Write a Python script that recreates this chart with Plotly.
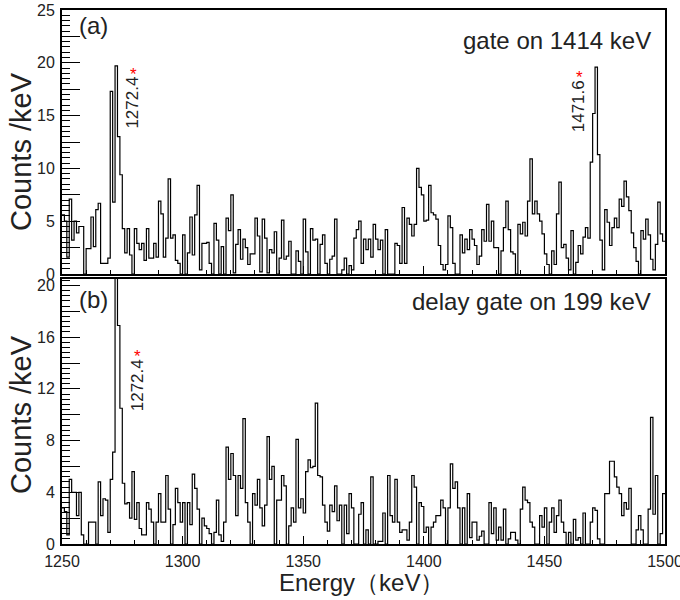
import plotly.graph_objects as go

# Bin edges (1 keV bins) and counts per keV
energy_edges = list(range(1250, 1501))

counts_a = [
    5.6, 5.0, 1.6, 7.1, 3.2, 5.0, 3.9, 4.5, 4.5, 0.0,
    2.4, 2.4, 5.4, 2.6, 6.1, 6.7, 1.0, 1.0, 1.0, 1.5,
    17.3, 6.8, 19.7, 13.0, 9.4, 4.3, 2.0, 4.3, 1.8, 0.0,
    4.3, 2.9, 2.3, 2.9, 1.3, 4.3, 1.5, 1.5, 2.9, 1.6,
    6.9, 5.7, 1.6, 3.4, 9.0, 3.4, 3.7, 1.3, 1.0, 0.0,
    3.7, 0.0, 2.0, 5.4, 1.8, 5.6, 8.4, 0.4, 2.9,
    2.9, 3.0, 1.0, 0.0, 4.8, 3.2, 0.0, 2.6, 0.0, 5.3,
    4.1, 7.5, 0.1, 2.8, 4.2, 1.4, 3.3, 2.5, 0.9, 1.9,
    1.9, 5.3, 3.6, 0.2, 5.2, 3.4, 0.1, 2.3, 2.0, 4.0,
    0.0, 1.5, 5.1, 1.4, 1.7, 3.1, 0.0, 0.0, 2.2, 1.2,
    0.0, 5.2, 2.1, 0.0, 4.3, 3.2, 3.3, 0.0, 2.8, 3.7,
    1.0, 0.0, 1.4, 1.7, 5.2, 0.0, 0.0, 0.4, 1.5, 0.0,
    0.8, 0.4, 3.4,
    4.2, 5.0, 1.0, 3.3, 2.3, 3.3, 1.6, 4.7, 3.3, 2.3,
    3.2, 0.0, 4.2, 0.0, 0.0, 0.0, 2.9, 2.7, 1.0,
    6.3, 1.0, 5.3, 4.7, 3.6, 4.7, 10.0, 8.2, 7.5, 5.0,
    5.1, 8.4, 5.8, 5.6, 5.2, 2.7, 0.9, 0.4, 0.9, 5.5,
    4.4, 1.0, 0.0, 0.0, 3.7, 2.0, 3.3, 2.3, 4.2, 3.3,
    2.7, 0.9, 1.7, 4.2, 3.1, 6.6, 3.1, 5.0, 2.5, 2.5,
    0.0, 2.2,
    4.4, 6.9, 4.2, 2.1, 1.9, 0.0, 4.7, 3.8, 4.9, 3.6,
    6.9, 10.9, 5.7, 6.9, 5.7, 5.0, 3.8, 1.9, 0.9, 0.0,
    2.2, 0.9, 5.7, 8.7, 2.5, 2.8, 1.5, 0.4, 4.1, 0.0,
    1.1, 2.7, 1.9, 3.5, 4.4, 3.4, 10.6, 15.2, 19.6, 11.3,
    3.2, 0.4, 6.1, 4.9, 2.7, 4.4, 5.3, 4.4, 7.1, 6.4,
    8.8, 7.3, 6.0, 3.9, 2.5, 1.2, 0.0, 4.1, 3.3, 5.2,
    3.7, 1.4, 0.4, 2.8, 6.8, 3.8, 3.1,
]

counts_b = [
    2.8, 2.5, 0.7, 5.0, 4.0, 4.0, 2.2, 4.0, 0.7, 0.0,
    0.0, 1.7, 1.7, 1.7, 0.0, 4.8, 2.2, 3.5, 3.4, 0.9,
    5.0, 7.1, 24.0, 16.9, 10.5, 4.7, 3.1, 3.2, 2.0, 5.6,
    1.9, 3.2, 1.2, 0.7, 0.7, 3.2, 2.7, 1.7, 0.0, 1.7,
    3.9, 1.7, 1.7, 5.3, 2.7, 0.0, 1.5, 4.3, 3.2, 1.7,
    3.2, 0.0, 3.2, 1.5, 5.4, 4.3, 2.7, 0.0,
    2.0, 1.4, 1.2, 0.8, 0.0, 0.9, 3.4, 0.7, 0.2, 1.7,
    7.5, 5.0, 7.0, 5.3, 2.2, 5.3, 4.3, 9.7, 3.2, 1.7,
    0.0, 3.9, 3.0, 5.0, 2.8, 1.4, 3.0, 8.3, 5.0, 6.0,
    0.0, 3.4, 3.4, 5.3, 4.5, 0.0, 1.4, 2.8, 1.7, 8.1,
    2.8, 3.5, 2.4, 5.6, 6.5, 5.9, 6.0, 10.9, 5.3, 5.2,
    3.0, 1.7, 1.0, 3.0, 2.5, 4.5, 1.8, 3.0, 0.0, 3.0,
    0.8,
    3.9, 2.8, 0.0, 0.0, 2.3, 3.2, 0.0, 1.1, 0.0, 5.2,
    0.0, 0.0, 0.2, 0.2, 2.4, 0.0, 5.3, 2.2, 1.7, 5.0,
    1.7, 0.9, 1.1, 1.1, 0.3, 1.7, 5.3, 4.4, 0.0, 3.2,
    2.9, 0.9, 1.3, 0.0, 1.3, 1.7, 2.2, 2.2, 3.4, 2.8,
    0.0, 2.8, 6.2, 4.3, 4.8, 2.8, 0.0, 2.8, 0.0, 3.9,
    0.5, 1.7, 1.7, 0.3, 0.6, 1.0, 0.0, 0.0, 3.2, 0.8,
    2.8, 0.3, 1.3, 0.3,
    2.7, 0.0, 0.4, 0.9, 0.9, 0.3, 0.0, 2.7, 4.4, 3.4,
    3.2, 1.7, 1.3, 0.0, 0.0, 2.2, 1.3, 2.8, 0.0, 1.7,
    2.8, 0.9, 2.2, 3.4, 1.7, 0.9, 0.0, 0.9, 0.0, 1.9,
    0.3, 0.5, 0.0, 2.4, 0.0, 0.0, 1.7, 2.8, 2.6, 0.4,
    0.0, 0.0, 3.9, 3.9, 6.4, 6.4, 5.2, 4.4, 3.9, 2.2,
    3.2, 2.7, 4.3, 0.0, 0.0, 1.1, 2.2, 1.1, 0.0, 0.0,
    2.7, 9.8, 2.3, 5.3, 0.0, 0.8, 3.9,
]

x_tick_vals = [1250, 1300, 1350, 1400, 1450, 1500]
ya_tick_vals = [0, 2.5, 5, 7.5, 10, 12.5, 15, 17.5, 20, 22.5, 25]
ya_tick_text = ["0", "", "5", "", "10", "", "15", "", "20", "", "25"]
yb_tick_vals = [0, 2, 4, 6, 8, 10, 12, 14, 16, 18, 20]
yb_tick_text = ["0", "", "4", "", "8", "", "12", "", "16", "", "20"]

peak_labels_a = ["1272.4", "1471.6"]
peak_pos_a = [1279.3, 1464.0]
peak_labels_b = ["1272.4"]
peak_pos_b = [1281.4]

FONT = "Liberation Sans, Arial, sans-serif"
TXT = "#222222"

fig = go.Figure()
fig.add_trace(go.Scatter(
    x=energy_edges, y=counts_a + [counts_a[-1]], mode="lines",
    line=dict(shape="hv", color="black", width=1.2),
    xaxis="x", yaxis="y", showlegend=False, hoverinfo="skip"))
fig.add_trace(go.Scatter(
    x=energy_edges, y=counts_b + [counts_b[-1]], mode="lines",
    line=dict(shape="hv", color="black", width=1.2),
    xaxis="x2", yaxis="y2", showlegend=False, hoverinfo="skip"))

axis_common = dict(showline=True, mirror=True, linecolor="black", linewidth=2,
                   showgrid=False, zeroline=False, ticks="inside", automargin=False,
                   tickcolor="black", ticklabeloverflow="allow",
                   tickfont=dict(family=FONT, size=16, color=TXT))

fig.update_layout(
    width=680, height=600,
    margin=dict(l=62, r=15, t=10, b=56),
    paper_bgcolor="white", plot_bgcolor="white",
    xaxis=dict(domain=[0, 1], range=[1250, 1500], anchor="y",
               tickvals=x_tick_vals, ticklen=8, showticklabels=False,
               minor=dict(dtick=10, tick0=1250, ticklen=4, ticks="inside", tickcolor="black"),
               **axis_common),
    yaxis=dict(domain=[0.5056, 1], range=[0, 25], anchor="x",
               tickvals=ya_tick_vals, ticktext=ya_tick_text, ticklen=18, ticklabelstandoff=2,
               minor=dict(dtick=0.5, tick0=0, ticklen=8, ticks="inside", tickcolor="black"),
               **axis_common),
    xaxis2=dict(domain=[0, 1], range=[1250, 1500], anchor="y2",
                tickvals=x_tick_vals, ticklen=8, ticklabelstandoff=2,
                minor=dict(dtick=10, tick0=1250, ticklen=4, ticks="inside", tickcolor="black"),
                **axis_common),
    yaxis2=dict(domain=[0, 0.4963], range=[0, 20.5], anchor="x2",
                tickvals=yb_tick_vals, ticktext=yb_tick_text, ticklen=18, ticklabelstandoff=2,
                minor=dict(dtick=0.4, tick0=0, ticklen=8, ticks="inside", tickcolor="black"),
                **axis_common),
)

PW, PH = 603.0, 534.0
ann = []
# axis titles
ann.append(dict(text="Counts /keV", xref="paper", yref="paper", x=(21 - 62) / PW, y=(544 - 152) / PH,
                textangle=-90, showarrow=False, xanchor="center", yanchor="middle",
                font=dict(family=FONT, size=29, color=TXT)))
ann.append(dict(text="Counts /keV", xref="paper", yref="paper", x=(21 - 62) / PW, y=(544 - 415) / PH,
                textangle=-90, showarrow=False, xanchor="center", yanchor="middle",
                font=dict(family=FONT, size=29, color=TXT)))
ann.append(dict(text="Energy（keV）", xref="paper", yref="paper", x=(361 - 62) / PW, y=(544 - 582) / PH,
                showarrow=False, xanchor="center", yanchor="middle",
                font=dict(family=FONT, size=24, color=TXT)))
# panel labels
ann.append(dict(text="(a)", xref="paper", yref="paper", x=(77 - 62) / PW, y=(544 - 26) / PH,
                showarrow=False, xanchor="left", yanchor="middle",
                font=dict(family=FONT, size=24, color=TXT)))
ann.append(dict(text="(b)", xref="paper", yref="paper", x=(77 - 62) / PW, y=(544 - 299) / PH,
                showarrow=False, xanchor="left", yanchor="middle",
                font=dict(family=FONT, size=24, color=TXT)))
ann.append(dict(text="gate on 1414 keV", xref="paper", yref="paper", x=(653 - 62) / PW, y=(544 - 40) / PH,
                showarrow=False, xanchor="right", yanchor="middle",
                font=dict(family=FONT, size=24, color=TXT)))
ann.append(dict(text="delay gate on 199 keV", xref="paper", yref="paper", x=(653 - 62) / PW, y=(544 - 301) / PH,
                showarrow=False, xanchor="right", yanchor="middle",
                font=dict(family=FONT, size=24, color=TXT)))
# peak labels
for lab, xp, yc, ys in zip(peak_labels_a, peak_pos_a, [16.2, 15.9], [18.9, 18.6]):
    ann.append(dict(text=lab, xref="x", yref="y", x=xp, y=yc, textangle=-90,
                    showarrow=False, xanchor="center", yanchor="middle",
                    font=dict(family=FONT, size=17, color=TXT)))
    ann.append(dict(text="*", xref="x", yref="y", x=xp + 0.4, y=ys,
                    showarrow=False, xanchor="center", yanchor="middle",
                    font=dict(family=FONT, size=17, color="red")))
for lab, xp, yc, ys in zip(peak_labels_b, peak_pos_b, [12.26], [14.5]):
    ann.append(dict(text=lab, xref="x2", yref="y2", x=xp, y=yc, textangle=-90,
                    showarrow=False, xanchor="center", yanchor="middle",
                    font=dict(family=FONT, size=17, color=TXT)))
    ann.append(dict(text="*", xref="x2", yref="y2", x=xp, y=ys,
                    showarrow=False, xanchor="center", yanchor="middle",
                    font=dict(family=FONT, size=17, color="red")))

fig.update_layout(annotations=ann)
fig.write_html("out.html", config={"displayModeBar": False},
               post_script="document.body.style.margin='0px';")
